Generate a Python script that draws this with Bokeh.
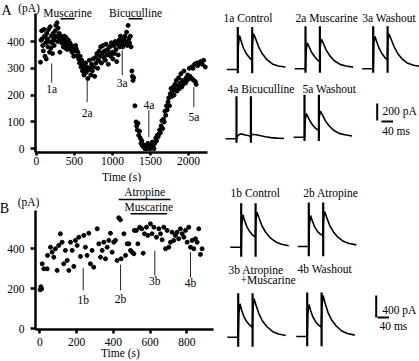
from bokeh.plotting import figure
from bokeh.layouts import row, column
from bokeh.models import Range1d, Label, FixedTicker
from bokeh.core.properties import value
from bokeh.embed import file_html
from bokeh.resources import INLINE

FONT = "Liberation Serif"
FS = "11.5px"

# ---------------- Panel A: amplitude vs time ----------------
A_TIME = [52, 60, 68, 75, 82, 90, 98, 105, 112, 120, 128, 135, 142, 150, 158, 165, 172, 180, 188, 195,
          202, 210, 218, 225, 232, 240, 248, 255, 262, 270, 278, 285, 292, 300, 308, 315, 322, 330, 338, 345,
          352, 360, 368, 375, 382, 390, 398, 405, 412, 420, 430, 440, 450, 460, 470, 480, 490, 500,
          515, 525, 535, 545, 555, 565, 575, 585, 595, 605, 615, 625, 635, 645, 655, 665, 675, 685, 695, 705,
          715, 725, 735, 745, 755, 765, 775, 785, 795, 805, 815, 825, 835,
          845, 855, 865, 875, 885, 895, 905, 915, 925, 935, 945, 955, 965, 975, 985, 995, 1005, 1015, 1025,
          1035, 1045, 1055, 1065, 1075, 1085, 1095, 1105, 1115, 1125, 1135, 1145, 1155, 1165, 1175, 1185,
          1195, 1205, 1215, 1225, 1235, 1245,
          1255, 1262, 1270, 1278, 1295, 1310, 1318, 1326, 1335, 1345, 1355, 1365, 1375, 1385, 1395, 1405,
          1415, 1425, 1435, 1445, 1455, 1465, 1475, 1485, 1495, 1505, 1515, 1525, 1535, 1545, 1555,
          1570, 1580, 1590, 1600, 1610, 1620, 1630, 1640, 1650, 1660, 1670, 1680, 1690, 1700, 1710, 1720,
          1730, 1740, 1750, 1760, 1770, 1780, 1790, 1800, 1810, 1820, 1830, 1840, 1850, 1860, 1870, 1880,
          1890, 1900, 1910, 1920, 1930, 1940, 1950, 1960, 1970, 1980, 1990, 2000, 2010, 2020, 2030, 2040,
          2050, 2060, 2070, 2080, 2090, 2100, 2110, 2120, 2140, 2160, 2180, 2200, 2220]
A_AMP = [323, 405, 440, 410, 385, 365, 445, 420, 345, 395, 335, 430, 410, 380, 445, 400, 360, 455, 375, 420,
         395, 355, 430, 405, 385, 415, 440, 460, 420, 470, 400, 450, 415, 430, 360, 405, 420, 395, 415, 410,
         380, 400, 420, 390, 375, 415, 395, 370, 385, 405, 380, 395, 370, 385, 360, 375, 345, 365,
         385, 372, 348, 360, 335, 320, 345, 305, 330, 290, 315, 275, 300, 320, 285, 305, 262, 295, 330, 300,
         275, 315, 290, 335, 305, 270, 340, 320, 355, 300, 330, 365, 345,
         380, 320, 355, 385, 340, 365, 330, 390, 350, 370, 315, 355, 380, 345, 395, 360, 335, 385, 355,
         400, 370, 325, 390, 350, 405, 380, 420, 395, 405, 380, 410, 390, 420, 400, 435,
         385, 460, 410, 395, 420, 380,
         290, 270, 255, 265, 160, 100, 85, 70, 95, 50, 65, 40, 20, 30, 10, 15,
         5, 0, 10, 5, 0, 20, 5, 10, 0, 15, 5, 25, 10, 0, 20,
         40, 30, 50, 45, 55, 70, 60, 85, 105, 75, 110, 100, 140, 125, 160, 145,
         175, 190, 160, 205, 225, 195, 215, 230, 200, 240, 220, 255, 215, 235, 265, 225,
         245, 280, 230, 255, 240, 290, 250, 245, 265, 255, 275, 260, 300, 270, 265, 305,
         260, 300, 255, 315, 250, 240, 320, 310, 320, 325, 315, 330, 305]
A_XTICKS = [0, 500, 1000, 1500, 2000]
A_YTICKS = [0, 100, 200, 300, 400]
A_MARKS = ["1a", "2a", "3a", "4a", "5a"]
A_MARK_T = [200, 667, 1128, 1478, 2070]
A_MARK_TOP = [318, 255, 367, 143, 230]
A_MARK_BOT = [247, 174, 274, 43, 155]
A_MARK_LABEL_Y = [223, 135, 245, 162, 118]
A_DRUGS = ["Muscarine", "Bicuculline"]
A_DRUG_START = [316, 1211]
A_DRUG_END = [500, 1395]

# ---------------- Panel B: amplitude vs time ----------------
B_TIME = [2, 6, 10, 13, 22, 40, 42, 58, 67, 76, 85, 94, 103, 112, 121, 130, 139, 149, 158, 167, 176, 185,
          194, 203, 212, 221, 239, 248, 257, 266, 275, 284, 293, 312, 321, 330, 339, 348, 357, 366, 375,
          384, 393, 402, 411, 420, 429, 438, 442, 457, 466, 475, 484, 493, 502, 511, 514, 525, 533, 543,
          554, 562, 569, 580, 587, 601, 610, 620, 634, 647, 656, 665, 674, 683, 692, 701, 710, 719, 728,
          737, 746, 755, 764, 774, 783, 792, 801, 810, 819, 828, 837, 846, 855, 864, 873, 882]
B_AMP = [195, 210, 200, 325, 300, 300, 367, 408, 383, 358, 400, 292, 417, 475, 433, 325, 392, 342, 292, 433,
         392, 312, 442, 417, 458, 362, 467, 408, 367, 478, 325, 392, 308, 500, 425, 358, 392, 433, 350, 408,
         442, 478, 383, 433, 442, 342, 555, 545, 350, 475, 367, 425, 425, 392, 383, 375, 492, 492, 425, 508,
         500, 378, 475, 508, 467, 525, 475, 508, 458, 500, 475, 445, 508, 400, 492, 408, 433, 483, 442,
         467, 483, 450, 500, 475, 458, 492, 433, 508, 408, 442, 400, 450, 433, 500, 372, 400]
B_XTICKS = [0, 200, 400, 600, 800]
B_YTICKS = [0, 200, 400]
B_MARKS = ["1b", "2b", "3b", "4b"]
B_MARK_T = [236, 439, 625, 819]
B_MARK_TOP = [305, 321, 391, 383]
B_MARK_BOT = [192, 192, 266, 258]
B_MARK_LABEL_Y = [144, 150, 241, 228]
B_DRUGS = ["Atropine", "Muscarine"]
B_DRUG_START = [429, 493]
B_DRUG_END = [710, 692]

# ---------------- Example traces (ms, pA) ----------------
TRACE_T = [-38, 0, 2, 6, 12, 20, 30, 40, 49, 51, 55, 62, 72, 85, 100, 120, 140, 165]
SPIKE_T = [0, 50]
TRACES_A = {
    "1a Control":     [0, 0, 280, 400, 330, 250, 185, 140, 110, 320, 420, 360, 270, 185, 120, 65, 42, 30],
    "2a Muscarine":   [0, 0, 200, 305, 265, 200, 150, 110, 80, 260, 350, 300, 220, 150, 95, 52, 32, 20],
    "3a Washout":     [0, 0, 300, 380, 320, 245, 180, 135, 106, 330, 410, 350, 265, 180, 118, 65, 42, 27],
    "4a Bicuculline": [0, 0, 20, 40, 55, 55, 45, 38, 31, 40, 50, 50, 44, 35, 25, 14, 8, 4],
    "5a Washout":     [0, 0, 190, 280, 240, 185, 135, 100, 79, 230, 306, 265, 195, 135, 85, 45, 28, 15],
}
TRACES_B = {
    "1b Control":   [0, 0, 400, 589, 480, 370, 280, 220, 182, 480, 636, 530, 390, 270, 175, 95, 55, 25],
    "2b Atropine":  [0, 0, 380, 564, 470, 360, 275, 225, 198, 470, 636, 530, 390, 270, 175, 95, 55, 30],
    "3b Atropine":  [0, 0, 420, 607, 490, 370, 280, 220, 182, 500, 698, 580, 425, 290, 190, 100, 58, 30],
    "4b Washout":   [0, 0, 400, 582, 470, 355, 265, 205, 169, 530, 745, 610, 440, 300, 195, 100, 55, 25],
}
SPIKE_A = (-45, 500)
SPIKE_B = (-175, 800)
BAR_A = (200, 40)   # pA, ms
BAR_B = (400, 40)

# ---------------- layout constants ----------------
PX_MS = 0.288
PX_PA_A = 0.085
PX_PA_B = 0.055


def lab(p, x, y, text, size=FS, align="center"):
    p.add_layout(Label(x=x, y=y, text=text, text_font=FONT, text_font_size=size,
                       text_align=align, text_baseline="middle", text_color="black"))


def scatter_panel(width, height, xr, yr, x_loc, y_loc, xbounds, ybounds, xticks, yticks,
                  tick_out_x, standoff_x):
    p = figure(width=width, height=height, x_range=Range1d(*xr), y_range=Range1d(*yr),
               output_backend="svg", toolbar_location=None, min_border=0,
               outline_line_color=None, background_fill_color="white", border_fill_color="white")
    p.xgrid.visible = False
    p.ygrid.visible = False
    for ax in (p.xaxis[0], p.yaxis[0]):
        ax.axis_line_width = 2.5
        ax.axis_line_color = "black"
        ax.major_tick_line_width = 2.5
        ax.major_tick_line_color = "black"
        ax.minor_tick_line_color = None
        ax.major_tick_in = 0
        ax.major_label_text_font = FONT
        ax.major_label_text_font_size = FS
        ax.major_label_text_color = "black"
    p.xaxis.ticker = FixedTicker(ticks=xticks)
    p.yaxis.ticker = FixedTicker(ticks=yticks)
    p.xaxis.fixed_location = y_loc
    p.yaxis.fixed_location = x_loc
    p.xaxis.bounds = xbounds
    p.yaxis.bounds = ybounds
    p.xaxis.major_tick_out = tick_out_x
    p.xaxis.major_label_standoff = standoff_x
    p.yaxis.major_tick_out = 5
    p.yaxis.major_label_standoff = 6
    return p


def annotate(p, t, amp, marks, mt, mtop, mbot, mly, drugs, ds, de, drug_text_y, drug_bar_y):
    p.segment(x0=mt, y0=mtop, x1=mt, y1=mbot, line_color="#222222", line_width=1)
    p.text(x=mt, y=mly, text=marks, text_font=value(FONT), text_font_size=FS,
           text_align="center", text_baseline="middle", text_color="black")
    p.segment(x0=ds, y0=drug_bar_y, x1=de, y1=drug_bar_y, line_color="black", line_width=1.5)
    mids = [(a + b) / 2 for a, b in zip(ds, de)]
    p.text(x=mids, y=drug_text_y, text=drugs, text_font=value(FONT), text_font_size=FS,
           text_align="center", text_baseline="middle", text_color="black")
    p.scatter(t, amp, marker="circle", size=4.0, fill_color="black", line_color="black")


# Panel A (frame covers the whole figure; axes are pinned at the data origin corner)
pa = scatter_panel(215, 182, (-473.5, 2355), (-126, 553), -13, -14, (-13, 2250), (-14, 505),
                   A_XTICKS, A_YTICKS, 3, 2)
annotate(pa, A_TIME, A_AMP, A_MARKS, A_MARK_T, A_MARK_TOP, A_MARK_BOT, A_MARK_LABEL_Y,
         A_DRUGS, A_DRUG_START, A_DRUG_END, [505, 505], [485, 485])
lab(pa, -395, 516, "A", size="14px")
lab(pa, -98, 525, "(pA)")
lab(pa, 1119, -104, "Time (s)")

# Panel B
pb = scatter_panel(215, 179, (-213.6, 954.9), (-163.5, 731.5), -23.4, -3.5, (-23.4, 944), (-3.5, 590),
                   B_XTICKS, B_YTICKS, 4, 4)
annotate(pb, B_TIME, B_AMP, B_MARKS, B_MARK_T, B_MARK_TOP, B_MARK_BOT, B_MARK_LABEL_Y,
         B_DRUGS, B_DRUG_START, B_DRUG_END, [686, 609], [646, 575])
lab(pb, -192, 604, "B", size="14px")
lab(pb, -61, 636, "(pA)")
lab(pb, 438, -121, "Time (s)")


def trace_panel(height, px_pa):
    p = figure(width=204, height=height, x_range=Range1d(0, 204 / PX_MS),
               y_range=Range1d(-height / px_pa, 0), x_axis_type=None, y_axis_type=None,
               output_backend="svg", toolbar_location=None, min_border=0,
               outline_line_color=None, background_fill_color="white", border_fill_color="white")
    p.xgrid.visible = False
    p.ygrid.visible = False
    return p


def draw_trace(p, px_pa, top, xp, yp, vals, spike):
    x0 = (xp - 215) / PX_MS
    y0 = -(yp - top) / px_pa
    p.line([x0 + t for t in TRACE_T], [y0 + v for v in vals], line_color="black", line_width=1.6)
    p.segment(x0=[x0 + s for s in SPIKE_T], y0=[y0 + spike[0]] * 2,
              x1=[x0 + s for s in SPIKE_T], y1=[y0 + spike[1]] * 2, line_color="black", line_width=2.2)


def tlab(p, px_pa, top, xp, yp, text):
    lab(p, (xp - 215) / PX_MS, -(yp - top) / px_pa, text, align="left")


def scale_bar(p, px_pa, top, xv, yv_bottom, xh, yh, bar, tx1, ty1, tx2, ty2):
    pa_, ms_ = bar
    x = (xv - 215) / PX_MS
    yb = -(yv_bottom - top) / px_pa
    p.segment(x0=[x], y0=[yb], x1=[x], y1=[yb + pa_], line_color="black", line_width=2)
    xs = (xh - 215) / PX_MS
    ys = -(yh - top) / px_pa
    p.segment(x0=[xs], y0=[ys], x1=[xs + ms_], y1=[ys], line_color="black", line_width=2)
    tlab(p, px_pa, top, tx1, ty1, f"{pa_} pA")
    tlab(p, px_pa, top, tx2, ty2, f"{ms_} ms")


# Traces A
ta = trace_panel(182, PX_PA_A)
anchors_a = [(237.3, 69), (305, 68.3), (372.7, 68.3), (236, 138.3), (304, 136.7)]
labels_a = [(223, 17), (295, 17), (361.7, 17), (227, 88.5), (302, 88.5)]
for (name, vals), (xp, yp), (lx, ly) in zip(TRACES_A.items(), anchors_a, labels_a):
    draw_trace(ta, PX_PA_A, 0, xp, yp, vals, SPIKE_A)
    tlab(ta, PX_PA_A, 0, lx, ly, name)
scale_bar(ta, PX_PA_A, 0, 376.7, 120, 381, 121, BAR_A, 382, 110, 381.7, 130)

# Traces B
tb = trace_panel(179, PX_PA_B)
anchors_b = [(240.7, 246.7), (308.3, 246), (237.7, 336.7), (306.7, 336)]
labels_b = [(230, 192.5), (302.7, 192.5), (228, 269), (297, 268.5)]
for (name, vals), (xp, yp), (lx, ly) in zip(TRACES_B.items(), anchors_b, labels_b):
    draw_trace(tb, PX_PA_B, 182, xp, yp, vals, SPIKE_B)
    tlab(tb, PX_PA_B, 182, lx, ly, name)
tlab(tb, PX_PA_B, 182, 240, 279, "+Muscarine")
scale_bar(tb, PX_PA_B, 182, 375.7, 317, 377, 317, BAR_B, 381.7, 309, 379, 325)

layout = row(column(pa, pb, spacing=0), column(ta, tb, spacing=0), spacing=0)

open("out.html", "w").write(file_html(layout, INLINE))
